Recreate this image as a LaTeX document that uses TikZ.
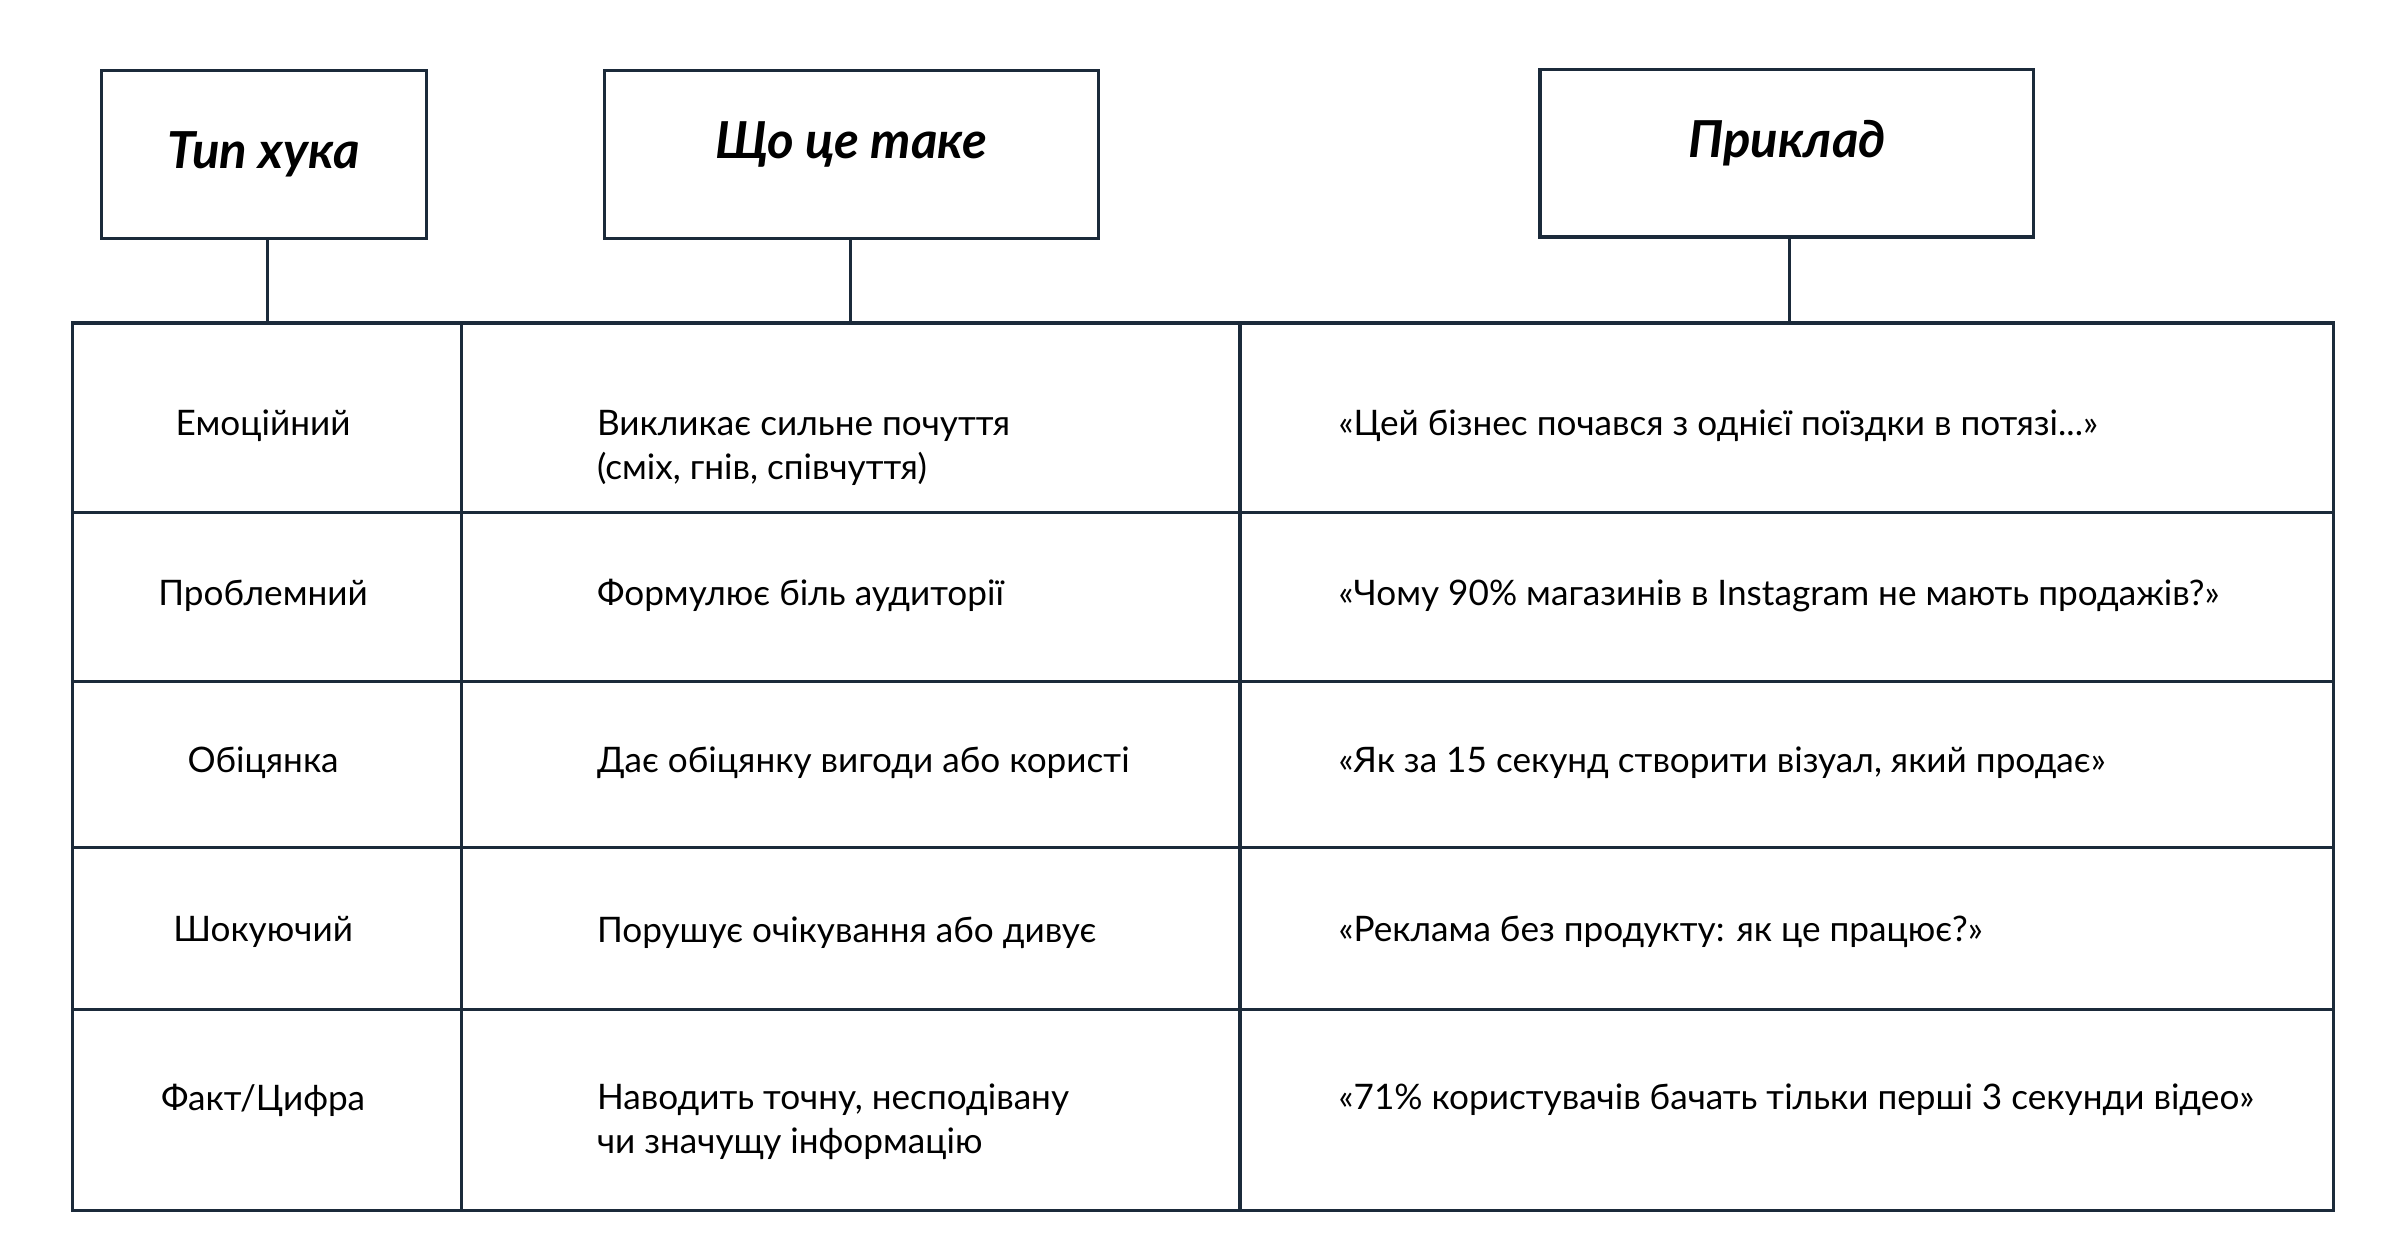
\documentclass[tikz,border=0pt]{standalone}
\usepackage{fontspec}
\setmainfont{Lato}
\definecolor{ln}{HTML}{1B2A3A}
\begin{document}
\begin{tikzpicture}[x=0.015385cm,y=-0.015385cm,
  hdr/.style={draw=ln,line width=0.9pt,inner sep=0},
  ht/.style={font=\fontsize{14.5pt}{16pt}\selectfont\bfseries\itshape,text=black},
  ct/.style={font=\fontsize{10pt}{12.5pt}\selectfont,text=black,align=left},
  tl/.style={draw=ln,line width=0.9pt}]
\useasboundingbox (0,0) rectangle (1560,817);
\fill[white] (0,0) rectangle (1560,817);
\draw[tl] (66,46) rectangle (277,155) node[midway,ht] (h1) {Тип хука};
\draw[tl] (393,46) rectangle (714,155) node[midway,ht,yshift=0.1cm] (h2) {Що це таке};
\draw[tl] (1001,45) rectangle (1322,154) node[midway,ht,yshift=0.1cm] (h3) {Приклад};
\coordinate (a1) at (174,155); \coordinate (b1) at (174,210);
\coordinate (a2) at (553,155); \coordinate (b2) at (553,210);
\coordinate (a3) at (1163,154); \coordinate (b3) at (1163,210);
\draw[tl] (a1)--(b1); \draw[tl] (a2)--(b2); \draw[tl] (a3)--(b3);
\draw[tl] (47,210) rectangle (1517,787);
\foreach \x in {300,806} \draw[tl] (\x,210)--(\x,787);
\foreach \y in {333,443,551,656} \draw[tl] (47,\y)--(1517,\y);
% col1
\node[ct,anchor=center] (r1) at (171,277) {Емоційний};
\node[ct] (r2) at (171,387) {Проблемний};
\node[ct] (r3) at (171,496) {Обіцянка};
\node[ct] (r4) at (171,606) {Шокуючий};
\node[ct] (r5) at (171,715) {Факт/Цифра};
% col2
\node[ct,anchor=west] (d1) at (380,291) {Викликає сильне почуття\\(сміх, гнів, співчуття)};
\node[ct,anchor=west] (d2) at (380,387) {Формулює біль аудиторії};
\node[ct,anchor=west] (d3) at (380,496) {Дає обіцянку вигоди або користі};
\node[ct,anchor=west] (d4) at (380,606) {Порушує очікування або дивує};
\node[ct,anchor=west] (d5) at (380,729) {Наводить точну, несподівану\\чи значущу інформацію};
% col3
\node[ct,anchor=west] (e1) at (862,277) {«Цей бізнес почався з однієї поїздки в потязі...»};
\node[ct,anchor=west] (e2) at (862,387) {«Чому 90\% магазинів в Instagram не мають продажів?»};
\node[ct,anchor=west] (e3) at (862,496) {«Як за 15 секунд створити візуал, який продає»};
\node[ct,anchor=west] (e4) at (862,606) {«Реклама без продукту: як це працює?»};
\node[ct,anchor=west] (e5) at (862,715) {«71\% користувачів бачать тільки перші 3 секунди відео»};
\end{tikzpicture}
\end{document}
